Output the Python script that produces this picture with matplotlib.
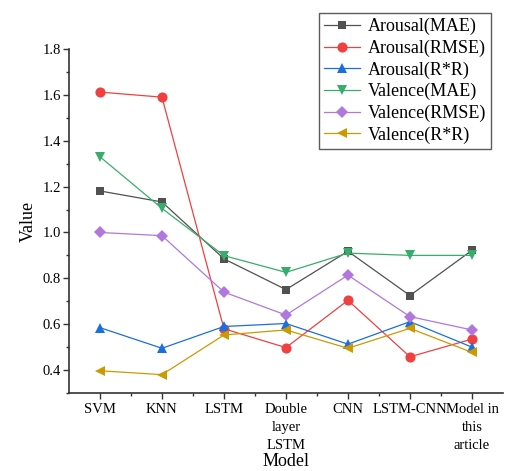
import matplotlib
matplotlib.use("Agg")
import matplotlib.pyplot as plt
from matplotlib.ticker import MultipleLocator, FixedLocator

plt.rcParams['font.family'] = ['Liberation Serif', 'DejaVu Serif']

models = ["SVM", "KNN", "LSTM", "Double\nlayer\nLSTM", "CNN", "LSTM-CNN", "Model in\nthis\narticle"]
arousal_mae = [1.181, 1.133, 0.885, 0.751, 0.918, 0.725, 0.922]
arousal_rmse = [1.612, 1.590, 0.580, 0.498, 0.704, 0.458, 0.535]
arousal_rr = [0.585, 0.495, 0.590, 0.603, 0.513, 0.611, 0.500]
valence_mae = [1.330, 1.105, 0.899, 0.826, 0.910, 0.900, 0.900]
valence_rmse = [1.000, 0.986, 0.740, 0.640, 0.814, 0.633, 0.575]
valence_rr = [0.397, 0.380, 0.553, 0.575, 0.495, 0.582, 0.477]
yticks = [0.4, 0.6, 0.8, 1.0, 1.2, 1.4, 1.6, 1.8]

series = [
    ("Arousal(MAE)", arousal_mae, "#515151", "s", 6.3),
    ("Arousal(RMSE)", arousal_rmse, "#F14040", "o", 7.3),
    ("Arousal(R*R)", arousal_rr, "#1A6FDF", "^", 7.5),
    ("Valence(MAE)", valence_mae, "#37AD6B", "v", 7.5),
    ("Valence(RMSE)", valence_rmse, "#B177DE", "D", 6),
    ("Valence(R*R)", valence_rr, "#CC9900", "<", 7.5),
]

fig = plt.figure(figsize=(5.07, 4.71), dpi=100)
ax = fig.add_axes([0.136, 0.1656, 0.856, 0.7304])

x = list(range(1, len(models) + 1))
for name, vals, col, mk, ms in series:
    ax.plot(x, vals, color=col, marker=mk, markersize=ms, linewidth=0.9,
            label=name, markeredgewidth=0)

ax.set_xlim(0.5, 7.5)
ax.set_ylim(0.3, 1.8)
ax.xaxis.set_major_locator(FixedLocator(x))
ax.set_xticklabels(models, fontsize=10.5, linespacing=1.5)
ax.xaxis.set_minor_locator(FixedLocator([i + 0.5 for i in x[:-1]]))
ax.set_yticks(yticks)
ax.set_yticklabels([f"{v:.1f}" for v in yticks], fontsize=10.5)
ax.yaxis.set_minor_locator(MultipleLocator(0.1))

for s in ["top", "right"]:
    ax.spines[s].set_visible(False)
for s in ["left", "bottom"]:
    ax.spines[s].set_linewidth(1.2)
    ax.spines[s].set_color("#333333")
ax.tick_params(which="major", direction="out", length=4, width=1, color="#333333", pad=2)
ax.tick_params(axis="x", which="major", pad=3.5)
ax.tick_params(which="minor", direction="out", length=2.5, width=1, color="#333333")

ax.set_xlabel("Model", fontsize=13, labelpad=0.5)
ax.set_ylabel("Value", fontsize=13, labelpad=4)

leg = fig.legend(loc="upper right", bbox_to_anchor=(0.969, 0.973), fontsize=13,
                 frameon=True, fancybox=False, handlelength=2.0, handletextpad=0.4,
                 labelspacing=0.24, borderpad=0.3, borderaxespad=0)
leg.get_frame().set_edgecolor("#333333")
leg.get_frame().set_linewidth(1.0)

fig.savefig("out.png", dpi=100)
